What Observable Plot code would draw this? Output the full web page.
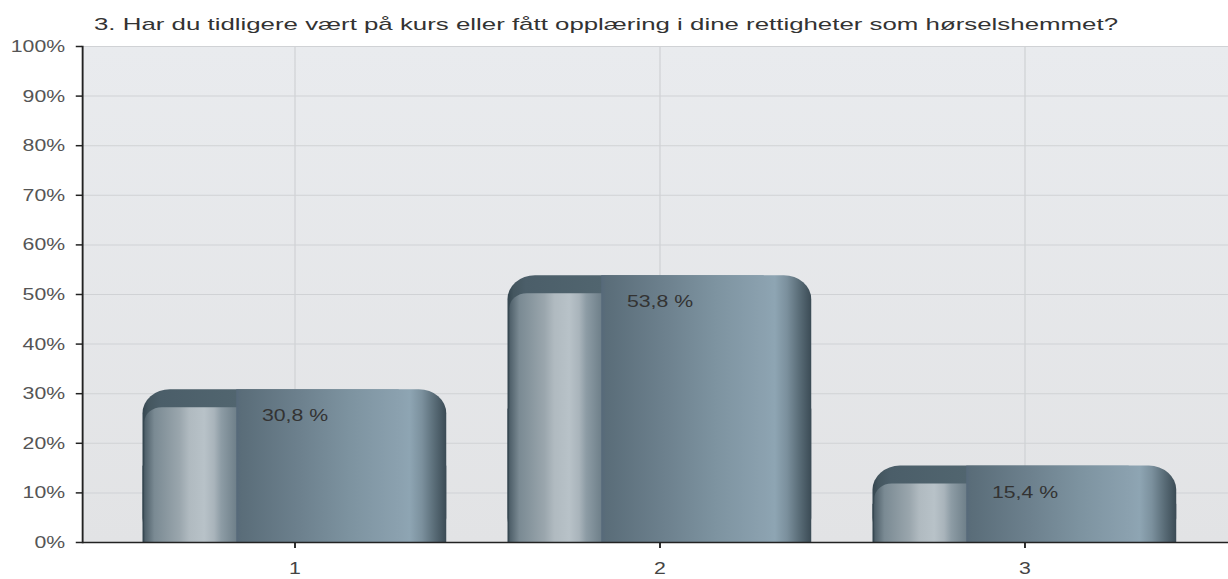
<!DOCTYPE html>
<html>
<head>
<meta charset="utf-8">
<script src="https://cdn.jsdelivr.net/npm/d3@7"></script>
<script src="https://cdn.jsdelivr.net/npm/@observablehq/plot@0.6"></script>
<style>
  html, body { margin: 0; padding: 0; background: #fff; }
  #wrap { width: 1228px; height: 579px; overflow: hidden; position: relative; }
  #title { height: 30px; position: relative; z-index: 1; }
  #title span {
    position: absolute; left: 94px; top: 16px; white-space: nowrap;
    font: 17px "Liberation Sans", Arial, sans-serif; line-height: 18px; color: #333;
    transform: scaleX(1.52); transform-origin: 0 0;
  }
  #chart svg { display: block; overflow: visible; transform: scaleX(1.25); transform-origin: 0 0; }
</style>
</head>
<body>
<div id="wrap">
  <div id="title"><span>3. Har du tidligere vært på kurs eller fått opplæring i dine rettigheter som hørselshemmet?</span></div>
  <div id="chart"></div>
</div>
<script>
const categories = ["1", "2", "3"];
const values = [30.8, 53.8, 15.4];
const valueLabels = ["30,8 %", "53,8 %", "15,4 %"];
const yTicks = [0, 10, 20, 30, 40, 50, 60, 70, 80, 90, 100];

const rows = categories.map((c, i) => ({cat: c, value: values[i], label: valueLabels[i]}));

const svg = Plot.plot({
  width: 982.4,
  height: 549,
  marginLeft: 65.6,
  marginRight: 0,
  marginTop: 16,
  marginBottom: 37,
  style: {fontFamily: "'Liberation Sans', Arial, sans-serif", fontSize: "17px", background: "transparent", color: "#444", overflow: "visible"},
  x: {domain: categories, range: [65.6, 990.4], padding: 0.167, axis: null},
  y: {domain: [0, 100], axis: null},
  marks: [
    Plot.frame({fill: "url(#bgGrad)"}),
    Plot.gridY(yTicks, {stroke: "#d0d2d5", strokeOpacity: 1}),
    Plot.gridX(categories, {stroke: "#d0d2d5", strokeOpacity: 1}),
    // body
    Plot.barY(rows, {x: "cat", y: "value", fill: "url(#bodyGrad)", rx: 22, ry: 24}),
    Plot.barY(rows, {x: "cat", y: d => d.value / 2, fill: "url(#bodyGrad)"}),
    // left highlight strip
    Plot.barY(rows, {x: "cat", y: "value", insetTop: 18, insetLeft: 1.5, insetRight: 148, fill: "url(#stripGrad)", rx: 14, ry: 15}),
    Plot.barY(rows, {x: "cat", y: d => d.value / 2, insetLeft: 1.5, insetRight: 148, fill: "url(#stripGrad)"}),
    // middle section
    Plot.barY(rows, {x: "cat", y: "value", insetLeft: 75, insetRight: 38, fill: "url(#midGrad)"}),
    Plot.text(rows, {x: "cat", y: "value", text: "label", dy: 26, fill: "#333", fontSize: 17}),
    Plot.ruleY([0], {stroke: "#222", strokeWidth: 1.5}),
    Plot.frame({anchor: "left", stroke: "#222", strokeWidth: 1.5}),
    Plot.axisY({ticks: yTicks, tickFormat: d => d + "%", tickSize: 5, tickPadding: 9, stroke: "#222", fill: "#555", strokeWidth: 1.5, fontSize: 17, label: null}),
    Plot.axisX({tickSize: 6, tickPadding: 13, stroke: "#222", fill: "#444", strokeWidth: 1.5, fontSize: 17, label: null})
  ]
});

const defs = d3.select(svg).insert("defs", ":first-child");
function grad(id, stops, vertical) {
  const g = defs.append("linearGradient").attr("id", id)
    .attr("x1", 0).attr("y1", 0).attr("x2", vertical ? 0 : 1).attr("y2", vertical ? 1 : 0);
  stops.forEach(([o, c]) => g.append("stop").attr("offset", o).attr("stop-color", c));
}
grad("bgGrad", [[0, "#e9ebee"], [1, "#e2e3e5"]], true);
grad("bodyGrad", [
  [0, "#34454f"], [0.02, "#44565f"], [0.06, "#4b5e69"], [0.31, "#51656f"],
  [0.845, "#8ba1af"], [0.88, "#8ea5b3"], [0.92, "#7b909d"], [0.96, "#5a6d78"], [1, "#3b4b55"]
]);
grad("stripGrad", [
  [0, "#4d5e68"], [0.085, "#7a8a93"], [0.3, "#9aa6ad"], [0.384, "#b0bac0"],
  [0.512, "#b8c2c8"], [0.597, "#a9b4bb"], [0.657, "#8d9ca5"], [0.785, "#6f808a"], [1, "#6f808a"]
]);
grad("midGrad", [[0, "#56697a"], [0.03, "#5a6d79"], [0.4, "#6d818e"], [0.7, "#7d93a0"], [1, "#8ba1af"]]);

document.getElementById("chart").appendChild(svg);
</script>
</body>
</html>
